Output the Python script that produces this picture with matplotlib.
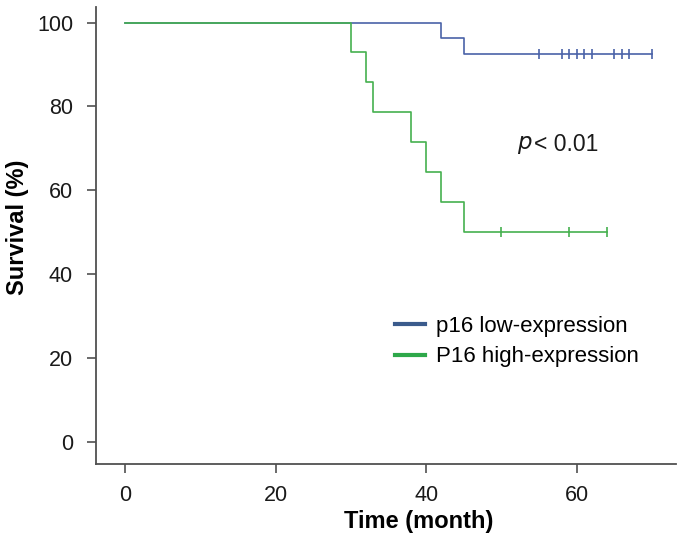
import matplotlib
matplotlib.use("Agg")
import matplotlib.pyplot as plt
from matplotlib.lines import Line2D

plt.rcParams['font.family'] = ['Liberation Sans', 'DejaVu Sans']

# Kaplan-Meier steps
low_t = [0, 42, 45, 70]
low_s = [100, 96.3, 92.6, 92.6]
low_cens_t = [55, 58, 59, 60, 61, 62, 65, 66, 67, 70]
low_cens_s = [92.6] * 10

high_t = [0, 30, 32, 33, 38, 40, 42, 45, 64]
high_s = [100, 92.9, 85.7, 78.6, 71.4, 64.3, 57.1, 50.0, 50.0]
high_cens_t = [50, 59, 64]
high_cens_s = [50.0] * 3

labels = ['p16 low-expression', 'P16 high-expression']
xticks = [0, 20, 40, 60]
yticks = [0, 20, 40, 60, 80, 100]

blue = '#4a62a8'
green = '#45b04f'

fig = plt.figure(figsize=(6.83, 5.43), dpi=100)
ax = fig.add_axes([0.1406, 0.1455, 0.8491, 0.8416])

ax.step(low_t, low_s, where='post', color=blue, lw=1.2)
ax.plot(low_cens_t, low_cens_s, ls='none', marker='|', ms=7, mew=1.2, color=blue)
ax.step(high_t, high_s, where='post', color=green, lw=1.2)
ax.plot(high_cens_t, high_cens_s, ls='none', marker='|', ms=7, mew=1.2, color=green)

ax.set_xlim(-3.85, 73.2)
ax.set_ylim(-5.3, 103.7)
ax.set_xticks(xticks)
ax.set_yticks(yticks)

for s in ['top', 'right']:
    ax.spines[s].set_visible(False)
for s in ['left', 'bottom']:
    ax.spines[s].set_color('#505050')
    ax.spines[s].set_linewidth(1.3)

ax.tick_params(axis='both', direction='out', length=6.5, width=1.2,
               color='#505050', labelsize=15.5, labelcolor='#1a1a1a')
ax.tick_params(axis='y', pad=10)
ax.tick_params(axis='x', pad=8.5)

ax.set_xlabel('Time (month)', fontsize=17, fontweight='bold')
ax.xaxis.set_label_coords(0.557, -0.10)
ax.set_ylabel('Survival (%)', fontsize=17, fontweight='bold')
ax.yaxis.set_label_coords(-0.115, 0.519)

ax.text(0.726, 0.70, '$p$', transform=ax.transAxes, fontsize=16.5,
        ha='left', va='center', color='#1a1a1a')
ax.text(0.756, 0.70, '< 0.01', transform=ax.transAxes, fontsize=16.5,
        ha='left', va='center', color='#1a1a1a')

handles = [Line2D([], [], color='#3b5b8c', lw=3),
           Line2D([], [], color='#2ea84a', lw=3)]
ax.legend(handles, labels, loc='upper left', bbox_to_anchor=(0.5, 0.343),
          frameon=False, fontsize=16, handlelength=1.35, handletextpad=0.5,
          labelspacing=0.42, borderaxespad=0)

fig.savefig('out.png', dpi=100)
